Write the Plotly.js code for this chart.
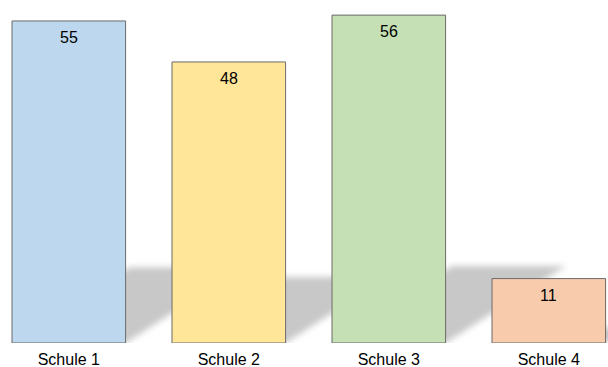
<!DOCTYPE html>
<html>
<head>
<meta charset="utf-8">
<script src="https://cdn.plot.ly/plotly-3.0.1.min.js"></script>
<style>html,body{margin:0;padding:0;background:#fff;}#chart{width:608px;height:367px;}</style>
</head>
<body>
<div id="chart"></div>
<script>
const categories = ["Schule 1", "Schule 2", "Schule 3", "Schule 4"];
const values = [55, 48, 56, 11];
const barColors = ["#bdd7ee", "#ffe699", "#c5e0b4", "#f8cbad"];

const FONT = "Liberation Sans, Arial, sans-serif";
const barWidth = 0.71;
const shadowDxPerUnit = 0.0134;  // category units of shadow skew per value unit
const shadowHPerUnit = 0.235;    // shadow height relative to bar height

const shapes = categories.map((c, i) => {
  const x0 = i - barWidth / 2, x1 = i + barWidth / 2;
  const dx = values[i] * shadowDxPerUnit, h = values[i] * shadowHPerUnit;
  return {
    type: "path", xref: "x", yref: "y", layer: "below",
    path: `M ${x0} 0 L ${x1} 0 L ${x1 + dx} ${h} L ${x0 + dx} ${h} Z`,
    fillcolor: "rgb(200,200,200)", line: {width: 0}
  };
});

const annotations = categories.map((c, i) => ({
  x: i, y: values[i], xref: "x", yref: "y",
  text: String(values[i]), showarrow: false,
  yanchor: "top", yshift: -6,
  font: {family: FONT, size: 16, color: "#000"}
}));

const trace = {
  type: "bar",
  x: categories.map((c, i) => i),
  y: values,
  width: barWidth,
  marker: {color: barColors, line: {color: "#6b6b6b", width: 1}},
  hoverinfo: "none"
};

const layout = {
  width: 608, height: 367,
  margin: {l: 0, r: 0, t: 0, b: 24},
  paper_bgcolor: "#fff", plot_bgcolor: "#fff",
  showlegend: false,
  xaxis: {
    range: [-0.43, 3.37],
    tickmode: "array",
    tickvals: categories.map((c, i) => i),
    ticktext: categories,
    showgrid: false, zeroline: false, showline: false, ticks: "",
    ticklabelstandoff: 5,
    tickfont: {family: FONT, size: 16, color: "#000"},
    fixedrange: true
  },
  yaxis: {
    range: [0, 58.58],
    showgrid: false, zeroline: false, showline: false,
    showticklabels: false, ticks: "", fixedrange: true
  },
  shapes: shapes,
  annotations: annotations
};

Plotly.newPlot("chart", [trace], layout, {staticPlot: true, displayModeBar: false}).then(gd => {
  const svg = gd.querySelector("svg.main-svg");
  const ns = "http://www.w3.org/2000/svg";
  let defs = svg.querySelector("defs");
  if (!defs) { defs = document.createElementNS(ns, "defs"); svg.insertBefore(defs, svg.firstChild); }
  const f = document.createElementNS(ns, "filter");
  f.setAttribute("id", "shadowblur");
  f.setAttribute("filterUnits", "userSpaceOnUse");
  f.setAttribute("x", "0"); f.setAttribute("y", "0");
  f.setAttribute("width", "608"); f.setAttribute("height", "367");
  const b = document.createElementNS(ns, "feGaussianBlur");
  b.setAttribute("stdDeviation", "3");
  f.appendChild(b);
  defs.appendChild(f);
  gd.querySelectorAll(".shapelayer path").forEach(p => {
    p.setAttribute("filter", "url(#shadowblur)");
    p.style.filter = "url(#shadowblur)";
  });
});
</script>
</body>
</html>
